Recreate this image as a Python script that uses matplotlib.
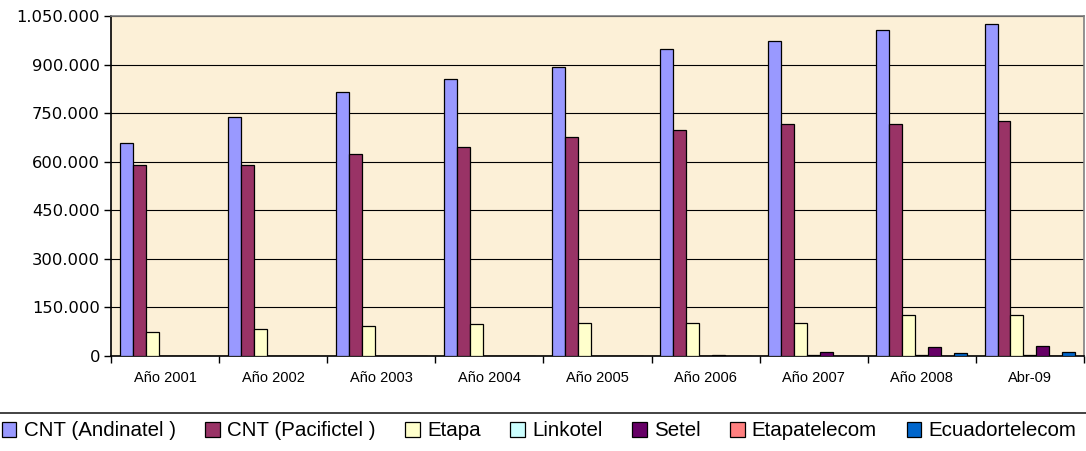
import numpy as np
import matplotlib
matplotlib.use("Agg")
import matplotlib.pyplot as plt
from matplotlib.lines import Line2D
from matplotlib.ticker import FuncFormatter, FixedLocator

plt.rcParams['font.family'] = ['Liberation Sans', 'DejaVu Sans']

# datos
categorias = ["Año 2001", "Año 2002", "Año 2003", "Año 2004", "Año 2005",
              "Año 2006", "Año 2007", "Año 2008", "Abr-09"]
operadoras = ["CNT (Andinatel )", "CNT (Pacifictel )", "Etapa", "Linkotel",
              "Setel", "Etapatelecom", "Ecuadortelecom"]

andinatel = [657000, 738000, 815000, 855000, 891000, 948000, 973000, 1007000, 1026000]
pacifictel = [591000, 591000, 624000, 645000, 676000, 697000, 716000, 716000, 725000]
etapa = [75000, 84000, 93000, 98000, 103000, 102000, 103000, 127000, 127000]
linkotel = [0, 0, 0, 0, 0, 0, 4000, 4000, 4000]
setel = [0, 0, 0, 0, 0, 3000, 13000, 28000, 32000]
etapatelecom = [0, 0, 0, 0, 0, 0, 0, 0, 0]
ecuadortelecom = [0, 0, 0, 0, 0, 0, 0, 8000, 13000]

series = [andinatel, pacifictel, etapa, linkotel, setel, etapatelecom, ecuadortelecom]
colores = ["#9999FF", "#993366", "#FFFFCC", "#CCFFFF", "#660066", "#FF8080", "#0066CC"]

fig = plt.figure(figsize=(10.86, 4.51), dpi=100)
ax = fig.add_axes([111 / 1086, 1 - 356 / 451, 973 / 1086, 340 / 451])
ax.set_facecolor("#FCF0D7")

x = np.arange(len(categorias))
ancho = 0.12
handles = []
for i, (vals, col) in enumerate(zip(series, colores)):
    off = (i - 3) * ancho
    b = ax.bar(x + off, vals, width=ancho, color=col, edgecolor="black",
               linewidth=0.9, zorder=3, label=operadoras[i])
    handles.append(b)

ax.set_xlim(-0.5, len(categorias) - 0.5)
ax.set_ylim(0, 1050000)
ax.set_yticks(np.arange(0, 1050001, 150000))
ax.yaxis.set_major_formatter(FuncFormatter(lambda v, p: f"{int(v):,}".replace(",", ".")))
ax.tick_params(axis='y', direction='out', length=5, width=1, pad=3,
               labelsize=11.8, labelfontfamily='DejaVu Sans')
ax.grid(axis='y', color='black', linewidth=0.8, zorder=1)

# marcas entre categorias, etiquetas centradas
ax.xaxis.set_major_locator(FixedLocator(np.arange(-0.5, len(categorias), 1)))
ax.xaxis.set_minor_locator(FixedLocator(x))
ax.set_xticklabels([], minor=False)
ax.set_xticklabels(categorias, minor=True)
ax.tick_params(axis='x', which='major', direction='out', length=5, width=1)
ax.tick_params(axis='x', which='minor', length=0, pad=11, labelsize=10.5)

for s in ['top', 'right']:
    ax.spines[s].set_color('#808080')
    ax.spines[s].set_linewidth(1.2)
for s in ['left', 'bottom']:
    ax.spines[s].set_color('black')
    ax.spines[s].set_linewidth(1.2)

# linea superior del cuadro de leyenda
fig.add_artist(Line2D([0, 1], [1 - 413 / 451, 1 - 413 / 451], color='#222222',
                      linewidth=1.2, transform=fig.transFigure))

fig.legend(handles=handles, labels=operadoras, loc='center left',
           bbox_to_anchor=(0.0, 1 - 431 / 451), ncol=7, frameon=False,
           fontsize=14.8, handlelength=0.7, handleheight=0.7,
           handletextpad=0.35, columnspacing=1.45, borderaxespad=0,
           borderpad=0.1)

fig.savefig("out.png", dpi=100)
